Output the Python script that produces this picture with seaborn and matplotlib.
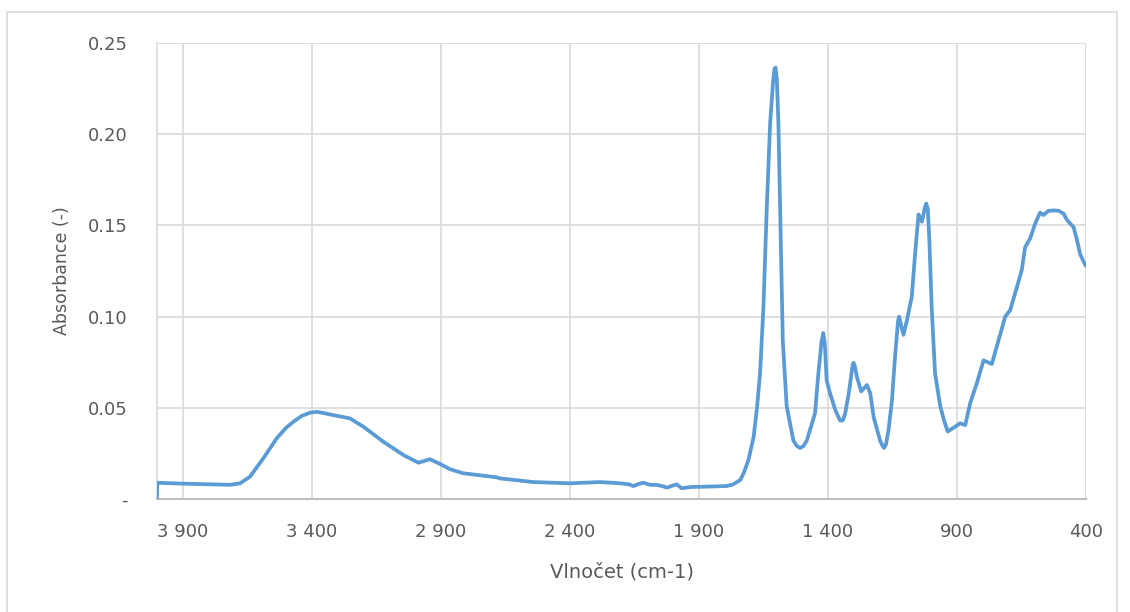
"""
plot.py
FTIR spectrum (Excel-style look) redrawn with seaborn.
"""

import matplotlib
matplotlib.use("Agg")
import matplotlib.pyplot as plt
import matplotlib.ticker as mticker
from matplotlib.patches import Rectangle
import pandas as pd
import seaborn as sns

# wavenumber (cm-1) and absorbance
wavenumber = [4000, 3999, 3898, 3800, 3717, 3678, 3640, 3588, 3536, 3500,
              3471, 3440, 3407, 3380, 3350, 3317, 3252, 3200, 3123, 3045,
              2987, 2942, 2903, 2864, 2813, 2684, 2671, 2543, 2399, 2283,
              2205, 2170, 2154, 2135, 2115, 2090, 2063, 2040, 2024, 2005,
              1986, 1967, 1930, 1895, 1792, 1768, 1740, 1727, 1708, 1688,
              1675, 1663, 1650, 1637, 1624, 1612, 1607, 1603, 1598, 1592,
              1583, 1575, 1560, 1534, 1520, 1508, 1495, 1482, 1463, 1450,
              1437, 1425, 1418, 1412, 1405, 1392, 1372, 1353, 1343, 1333,
              1317, 1305, 1301, 1296, 1288, 1271, 1255, 1249, 1236, 1223,
              1198, 1188, 1182, 1175, 1165, 1152, 1140, 1128, 1124, 1118,
              1107, 1094, 1075, 1062, 1049, 1036, 1024, 1019, 1013, 1007,
              998, 985, 965, 950, 936, 914, 888, 868, 849, 823,
              797, 765, 739, 713, 694, 668, 649, 636, 616, 597,
              578, 565, 545, 525, 506, 487, 474, 448, 435, 422,
              409, 400]
absorbance = [0.0000, 0.0089, 0.0084, 0.0081, 0.0078, 0.0086, 0.0122, 0.0223, 0.0333, 0.0390,
              0.0424, 0.0455, 0.0473, 0.0478, 0.0470, 0.0460, 0.0442, 0.0396, 0.0314, 0.0241,
              0.0199, 0.0218, 0.0192, 0.0163, 0.0141, 0.0119, 0.0113, 0.0093, 0.0086, 0.0093,
              0.0086, 0.0080, 0.0071, 0.0082, 0.0089, 0.0078, 0.0077, 0.0070, 0.0062, 0.0072,
              0.0080, 0.0059, 0.0066, 0.0067, 0.0071, 0.0080, 0.0104, 0.0140, 0.0214, 0.0340,
              0.0500, 0.0690, 0.1050, 0.1600, 0.2060, 0.2300, 0.2360, 0.2365, 0.2300, 0.2060,
              0.1420, 0.0870, 0.0510, 0.0320, 0.0290, 0.0280, 0.0290, 0.0320, 0.0410, 0.0470,
              0.0690, 0.0860, 0.0910, 0.0850, 0.0650, 0.0580, 0.0490, 0.0430, 0.0430, 0.0470,
              0.0600, 0.0730, 0.0747, 0.0730, 0.0670, 0.0590, 0.0615, 0.0625, 0.0580, 0.0450,
              0.0320, 0.0290, 0.0280, 0.0300, 0.0380, 0.0540, 0.0780, 0.0980, 0.1000, 0.0960,
              0.0900, 0.0980, 0.1110, 0.1350, 0.1560, 0.1520, 0.1600, 0.1620, 0.1590, 0.1420,
              0.1050, 0.0690, 0.0510, 0.0430, 0.0370, 0.0390, 0.0415, 0.0405, 0.0525, 0.0635,
              0.0760, 0.0740, 0.0870, 0.1000, 0.1035, 0.1160, 0.1255, 0.1380, 0.1430, 0.1510,
              0.1570, 0.1557, 0.1580, 0.1582, 0.1580, 0.1565, 0.1530, 0.1490, 0.1420, 0.1340,
              0.1300, 0.1277]

x_ticks = [3900, 3400, 2900, 2400, 1900, 1400, 900, 400]
y_ticks = [0.0, 0.05, 0.10, 0.15, 0.20, 0.25]

LINE = "#5B9BD5"
GRID = "#D9D9D9"
TEXT = "#595959"

sns.set_style("white")
plt.rcParams["font.family"] = ["DejaVu Sans"]

fig = plt.figure(figsize=(11.30, 6.12), dpi=100)
ax = fig.add_axes([157 / 1130, 1 - 499 / 612, (1086 - 157) / 1130, (499 - 43) / 612])

# chart-area border like the Excel export
fig.patches.append(Rectangle((7 / 1130, -0.05), (1117 - 7) / 1130, 1 - 12 / 612 + 0.05,
                             transform=fig.transFigure, fill=False,
                             edgecolor=GRID, linewidth=1.2, zorder=0))

df = pd.DataFrame({"wavenumber": wavenumber, "absorbance": absorbance})
sns.lineplot(data=df, x="wavenumber", y="absorbance", sort=False,
             color=LINE, linewidth=2.7, ax=ax, zorder=3)
for ln in ax.lines:
    ln.set_solid_joinstyle("round")
    ln.set_solid_capstyle("round")

ax.set_xlim(4000, 400)
ax.set_ylim(0, 0.25)
ax.set_xticks(x_ticks)
ax.set_yticks(y_ticks)
ax.xaxis.set_major_formatter(mticker.FuncFormatter(lambda v, p: f"{int(v):,}".replace(",", " ")))
ax.yaxis.set_major_formatter(mticker.FuncFormatter(lambda v, p: "-" if v == 0 else f"{v:.2f}"))

ax.grid(True, color=GRID, linewidth=1.2)
ax.set_axisbelow(True)
ax.tick_params(axis="both", length=0, labelsize=13, labelcolor=TEXT)
ax.tick_params(axis="x", pad=17)
ax.tick_params(axis="y", pad=21)

for side in ["top", "right"]:
    ax.spines[side].set_visible(False)
ax.spines["left"].set_color(GRID)
ax.spines["left"].set_linewidth(1.2)
ax.spines["bottom"].set_color("#BFBFBF")
ax.spines["bottom"].set_linewidth(1.5)

ax.set_xlabel("Vlnočet (cm-1)", fontsize=14, color=TEXT, labelpad=16)
ax.set_ylabel("Absorbance (-)", fontsize=12.5, color=TEXT, labelpad=12)

fig.savefig("out.png", dpi=100)
plt.close(fig)
